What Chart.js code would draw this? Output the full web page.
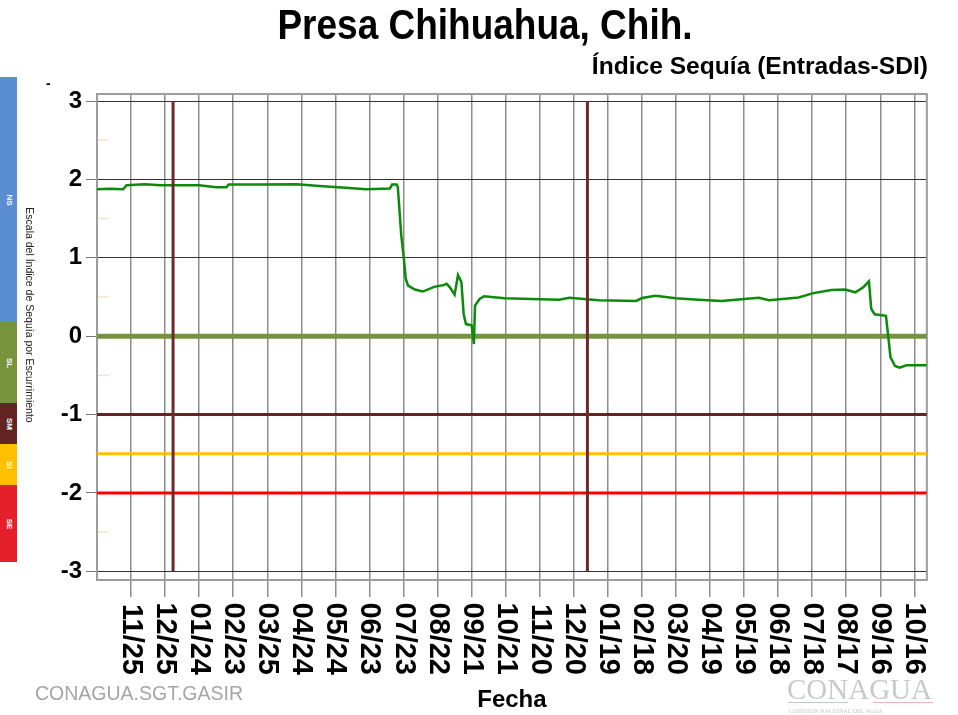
<!DOCTYPE html>
<html>
<head>
<meta charset="utf-8">
<script src="https://cdn.jsdelivr.net/npm/chart.js@4"></script>
<style>
    body { margin: 0; background: #fff; }
    #wrap { position: relative; width: 958px; height: 715px; overflow: hidden; font-family: "Liberation Sans", Arial, sans-serif; }
    #chart { position: absolute; left: 0; top: 0; }
    .txt { position: absolute; white-space: nowrap; line-height: 1; }
    .band { position: absolute; left: 0; width: 17px; }
    .band span { position: absolute; left: 50%; top: 50%; transform: translate(-50%, -50%) rotate(90deg); color: #fff; font-size: 8px; font-weight: bold; }
</style>
</head>
<body>
<div id="wrap">
    <canvas id="chart" width="958" height="715"></canvas>

    <div class="txt" style="left:0;width:970px;text-align:center;top:3px;font-size:43px;font-weight:bold;transform:scaleX(0.86);transform-origin:485px 0;">Presa Chihuahua, Chih.</div>
    <div class="txt" style="right:30px;top:54px;font-size:24.6px;font-weight:bold;">Índice Sequía (Entradas-SDI)</div>

    <!-- drought scale bar -->
    <div class="band" style="top:77px;height:245px;background:#5b8dd3;"><span>NS</span></div>
    <div class="band" style="top:322px;height:81px;background:#77933c;"><span>SL</span></div>
    <div class="band" style="top:403px;height:41px;background:#632523;"><span>SM</span></div>
    <div class="band" style="top:444px;height:41px;background:#ffc000;"><span>SI</span></div>
    <div class="band" style="top:485px;height:77px;background:#e4202b;"><span>SE</span></div>
    <div class="txt" style="left:30px;top:315px;transform:translate(-50%,-50%) rotate(90deg);font-size:10.5px;color:#222;">Escala del Índice de Sequía por Escurrimiento</div>
    <div class="txt" style="left:46px;top:76px;font-size:14px;font-weight:bold;">-</div>

    <div class="txt" style="left:35px;top:684px;font-size:19.5px;color:#a6a6a6;">CONAGUA.SGT.GASIR</div>
    <div class="txt" style="left:787px;top:675px;font-size:29px;color:#c9c9c9;font-family:'Liberation Serif',serif;">CONAGUA</div>
    <div style="position:absolute;left:788px;top:702px;width:60px;height:1px;background:#b9d3b9;"></div>
    <div style="position:absolute;left:873px;top:702px;width:60px;height:1px;background:#e8b4b4;"></div>
    <div class="txt" style="left:789px;top:708px;font-size:6px;color:#c9c9c9;font-family:'Liberation Serif',serif;">COMISIÓN NACIONAL DEL AGUA</div>
</div>

<script>
// Daily axis: day 0 = 10/26, ticks every 30 days
const xTickDays = [30, 60, 90, 120, 150, 180, 210, 240, 270, 300, 330, 360,
    390, 420, 450, 480, 510, 540, 570, 600, 630, 660, 690, 720];
const xTickLabels = ['11/25', '12/25', '01/24', '02/23', '03/25', '04/24', '05/24', '06/23',
    '07/23', '08/22', '09/21', '10/21', '11/20', '12/20', '01/19', '02/18', '03/20', '04/19',
    '05/19', '06/18', '07/18', '08/17', '09/16', '10/16'];
const yTickValues = [3, 2, 1, 0, -1, -2, -3];
const minorTicks = [2.5, 1.5, 0.5, -0.5, -1.5, -2.5];

// SDI series
const days = [0, 12, 23, 26, 42, 56, 90, 105, 114, 116, 143, 176, 196, 222, 237, 258, 260, 264, 265, 268,
    270, 272, 274, 280, 287, 297, 306, 308, 311, 315, 318, 321, 323, 325, 330, 332, 333, 337, 341, 359,
    407, 416, 442, 475, 480, 492, 510, 530, 550, 583, 592, 618, 631, 647, 659, 668, 675, 680, 682, 685,
    695, 699, 703, 707, 713, 731];
const sdi = [1.875, 1.88, 1.875, 1.925, 1.94, 1.925, 1.925, 1.9, 1.9, 1.935, 1.935, 1.94, 1.915, 1.89, 1.875, 1.885, 1.935, 1.935, 1.9, 1.29,
    1.03, 0.73, 0.645, 0.595, 0.57, 0.63, 0.655, 0.67, 0.62, 0.53, 0.78, 0.69, 0.28, 0.155, 0.14, -0.1, 0.39, 0.475, 0.51, 0.485,
    0.465, 0.49, 0.46, 0.45, 0.487, 0.515, 0.485, 0.465, 0.45, 0.49, 0.46, 0.495, 0.55, 0.59, 0.595, 0.56, 0.625, 0.7, 0.35, 0.28,
    0.26, -0.27, -0.38, -0.4, -0.37, -0.37];

// Drought thresholds and year marks
const thresholdValues = [0, -1, -1.5, -2];
const thresholdColors = ['#77933c', '#632523', '#ffc000', '#ff0000'];
const thresholdWidths = [5, 3, 3, 3];
const yearStartDays = [67, 432];

const X_MIN = 0, X_MAX = 731;
const FONT = '"Liberation Sans", Arial, sans-serif';

const datasets = [];

// Year separators (on top)
yearStartDays.forEach(d => {
    datasets.push({
        data: [{ x: d, y: yTickValues[0] }, { x: d, y: yTickValues[yTickValues.length - 1] }],
        borderColor: '#6b2b2b',
        borderWidth: 3,
        order: 0
    });
});

// SDI line
datasets.push({
    data: days.map((d, i) => ({ x: d, y: sdi[i] })),
    borderColor: '#0c8a0c',
    borderWidth: 2.5,
    order: 1
});

// Threshold lines
thresholdValues.forEach((v, i) => {
    datasets.push({
        data: [{ x: X_MIN, y: v }, { x: X_MAX, y: v }],
        borderColor: thresholdColors[i],
        borderWidth: thresholdWidths[i],
        order: 2
    });
});

// Plot frame and faint half-unit marks
const framePlugin = {
    id: 'frame',
    beforeDatasetsDraw(chart) {
        const { ctx, chartArea: a, scales: { y } } = chart;
        ctx.save();
        ctx.strokeStyle = '#efe8bf';
        ctx.lineWidth = 1.5;
        minorTicks.forEach(v => {
            const py = y.getPixelForValue(v);
            ctx.beginPath();
            ctx.moveTo(a.left, py);
            ctx.lineTo(a.left + 12, py);
            ctx.stroke();
        });
        ctx.strokeStyle = '#9c9c9c';
        ctx.lineWidth = 2;
        ctx.strokeRect(a.left, a.top, a.right - a.left, a.bottom - a.top);
        ctx.restore();
    }
};

new Chart(document.getElementById('chart'), {
    type: 'line',
    data: { datasets },
    plugins: [framePlugin],
    options: {
        responsive: false,
        animation: false,
        layout: { padding: { left: 0, right: 29, top: 94, bottom: 0 } },
        elements: {
            point: { radius: 0, hoverRadius: 0 },
            line: { tension: 0, borderCapStyle: 'butt' }
        },
        plugins: {
            legend: { display: false },
            tooltip: { enabled: false }
        },
        scales: {
            x: {
                type: 'linear',
                min: X_MIN,
                max: X_MAX,
                afterBuildTicks: scale => { scale.ticks = xTickDays.map(v => ({ value: v })); },
                afterFit: scale => { scale.height = 135; },
                border: { display: false },
                grid: { color: '#8d8d8d', lineWidth: 1.5, tickColor: '#8d8d8d', tickLength: 17 },
                ticks: {
                    autoSkip: false,
                    minRotation: -90,
                    maxRotation: -90,
                    padding: 78,
                    color: '#000',
                    font: { family: FONT, size: 29, weight: 'bold' },
                    callback: (value, index) => xTickLabels[index]
                },
                title: {
                    display: true,
                    text: 'Fecha',
                    color: '#000',
                    font: { family: FONT, size: 24, weight: 'bold' },
                    padding: { top: 0, bottom: 0 }
                }
            },
            y: {
                min: -3.11,
                max: 3.09,
                afterBuildTicks: scale => { scale.ticks = yTickValues.map(v => ({ value: v })); },
                afterFit: scale => { scale.width = 97; },
                border: { display: false },
                grid: { color: '#333', lineWidth: 1, tickColor: '#777', tickLength: 11 },
                ticks: {
                    padding: 4,
                    color: '#000',
                    font: { family: FONT, size: 24, weight: 'bold' }
                }
            }
        }
    }
});
</script>
</body>
</html>
